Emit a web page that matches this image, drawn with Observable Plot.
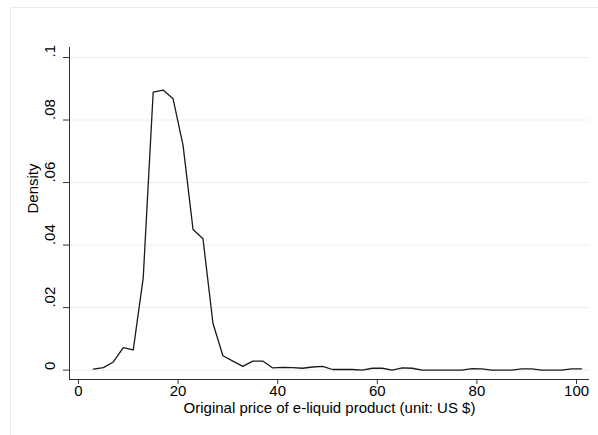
<!DOCTYPE html>
<html>
<head>
<meta charset="utf-8">
<script src="https://cdn.jsdelivr.net/npm/d3@7"></script>
<script src="https://cdn.jsdelivr.net/npm/@observablehq/plot@0.6"></script>
<style>
  html, body { margin: 0; padding: 0; background: #fff; }
  #wrap { position: relative; width: 598px; height: 435px; overflow: hidden; }
  #region { position: absolute; left: 10px; top: 7px; width: 620px; height: 460px;
            border: 1px solid #e3ecee; box-sizing: border-box; }
  #chart { position: absolute; left: 0; top: 0; }
</style>
</head>
<body>
<div id="wrap"><div id="region"></div><div id="chart"></div></div>
<script>
// Bin midpoints of the price histogram (US $) and the density in each bin
const price = [3, 5, 7, 9, 11, 13, 15, 17, 19, 21, 23, 25, 27, 29, 31, 33, 35, 37, 39, 41,
               43, 45, 47, 49, 51, 53, 55, 57, 59, 61, 63, 65, 67, 69, 71, 73, 75, 77, 79, 81,
               83, 85, 87, 89, 91, 93, 95, 97, 99, 101];
const density = [0.0003, 0.0008, 0.0026, 0.0072, 0.0065, 0.0295, 0.0889, 0.0896, 0.0868, 0.0719,
                 0.0450, 0.0420, 0.0150, 0.0046, 0.0029, 0.0012, 0.0029, 0.0029, 0.0007, 0.0009,
                 0.0008, 0.0006, 0.0010, 0.0012, 0.0002, 0.0002, 0.0002, 0.0000, 0.0006, 0.0006,
                 0.0000, 0.0007, 0.0006, 0.0000, 0.0000, 0.0000, 0.0000, 0.0000, 0.0005, 0.0004,
                 0.0000, 0.0000, 0.0000, 0.0004, 0.0004, 0.0000, 0.0000, 0.0000, 0.0004, 0.0004];

const xTicks = [0, 20, 40, 60, 80, 100];
const yTicks = [0, 0.02, 0.04, 0.06, 0.08, 0.1];
const yTickLabels = ["0", ".02", ".04", ".06", ".08", ".1"];
const xTitle = "Original price of e-liquid product (unit: US $)";
const yTitle = "Density";

const xDomain = [-1.8, 102.6];
const yDomain = [-0.003, 0.1032];

const points = price.map((p, i) => ({price: p, density: density[i]}));
const yLabelRows = yTicks.map((v, i) => ({v, label: yTickLabels[i]}));

const chart = Plot.plot({
  width: 598,
  height: 435,
  marginLeft: 69,
  marginRight: 9,
  marginTop: 47,
  marginBottom: 56,
  style: {fontFamily: "'Liberation Sans', Arial, sans-serif", fontSize: "15px", color: "#000", background: "transparent"},
  x: {domain: xDomain, label: null},
  y: {domain: yDomain, label: null},
  marks: [
    Plot.gridY(yTicks, {stroke: "#e6eff1", strokeOpacity: 1, strokeWidth: 1}),
    Plot.axisX(xTicks, {tickSize: 5, tickPadding: 1, stroke: "#333", fill: "#000", fontSize: 15, label: null}),
    Plot.axisY(yTicks, {tickSize: 6, stroke: "#333", tickFormat: () => "", label: null}),
    Plot.text(yLabelRows, {y: "v", text: "label", frameAnchor: "left", dx: -19, rotate: -90, fontSize: 15, fill: "#000"}),
    Plot.ruleX([xDomain[0]], {stroke: "#333", strokeWidth: 1}),
    Plot.ruleY([yDomain[0]], {stroke: "#333", strokeWidth: 1}),
    Plot.line(points, {x: "price", y: "density", stroke: "#1a1a1a", strokeWidth: 1.3}),
    Plot.text([xTitle], {frameAnchor: "bottom", dy: 33, fontSize: 15, fill: "#000"}),
    Plot.text([yTitle], {frameAnchor: "left", dx: -36, rotate: -90, fontSize: 15, fill: "#000"})
  ]
});
document.getElementById("chart").appendChild(chart);
</script>
</body>
</html>
